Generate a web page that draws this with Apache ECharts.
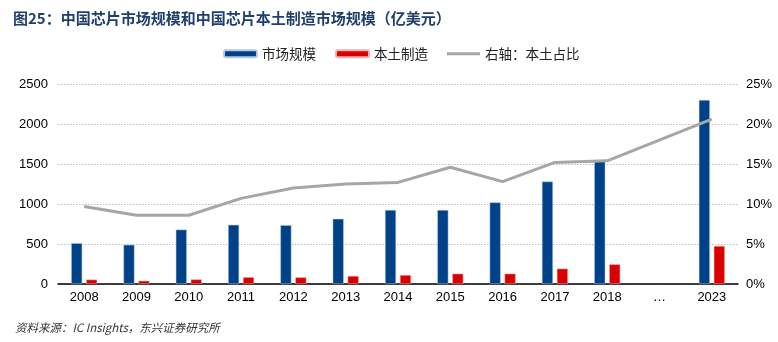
<!DOCTYPE html>
<html>
<head>
<meta charset="utf-8">
<script src="https://cdn.jsdelivr.net/npm/echarts@6/dist/echarts.min.js"></script>
<style>
html,body{margin:0;padding:0;background:#fff;}
#c{width:778px;height:342px;}
</style>
</head>
<body>
<div id="c"></div>
<script>
const categories = ['2008','2009','2010','2011','2012','2013','2014','2015','2016','2017','2018','…','2023'];
const marketSize = [510, 490, 680, 740, 735, 815, 925, 925, 1020, 1280, 1550, null, 2300];
const localMade = [55, 40, 57, 85, 83, 100, 112, 129, 129, 192, 246, null, 475];
const localShare = [9.7, 8.6, 8.6, 10.7, 12.0, 12.5, 12.7, 14.6, 12.8, 15.2, 15.4, null, 20.6];
const leftTicks = [0, 500, 1000, 1500, 2000, 2500];
const rightTicks = [0, 5, 10, 15, 20, 25];

const chart = echarts.init(document.getElementById('c'));
const axisFont = {fontFamily: 'Liberation Sans, Arial, sans-serif', fontSize: 13, color: '#000'};
chart.setOption({
  animation: false,
  backgroundColor: '#fff',
  title: [{
    text: '图25：中国芯片市场规模和中国芯片本土制造市场规模（亿美元）',
    left: 8, top: 6,
    textStyle: {fontFamily: 'Noto Sans CJK SC', fontSize: 15, fontWeight: 'bold', color: '#1F3F6E'}
  }, {
    text: '资料来源：IC Insights，东兴证券研究所',
    left: 10, top: 317,
    textStyle: {fontFamily: 'Noto Sans CJK SC', fontSize: 11.5, fontStyle: 'italic', fontWeight: 'normal', color: '#333'}
  }],
  legend: {
    top: 42, left: 218,
    itemWidth: 33, itemHeight: 7, itemGap: 19,
    textStyle: {fontFamily: 'Noto Sans CJK SC', fontSize: 13.5, color: '#222'},
    data: [
      {name: '市场规模'},
      {name: '本土制造'},
      {name: '右轴：本土占比', icon: 'path://M0,0 L33,0 L33,3 L0,3 Z', itemStyle: {color: '#A6A6A6'}}
    ]
  },
  grid: {left: 58, right: 40, top: 84, bottom: 58},
  xAxis: {
    type: 'category',
    data: categories,
    axisTick: {show: false},
    axisLine: {lineStyle: {color: '#000', width: 1.5}},
    axisLabel: Object.assign({margin: 7, interval: 0}, axisFont)
  },
  yAxis: [{
    type: 'value', min: leftTicks[0], max: leftTicks[leftTicks.length - 1], interval: 500,
    axisLine: {show: false}, axisTick: {show: false},
    axisLabel: Object.assign({margin: 10, formatter: v => String(v)}, axisFont),
    splitLine: {lineStyle: {color: '#BFBFBF', type: [1.5, 1.5], width: 1}}
  }, {
    type: 'value', min: rightTicks[0], max: rightTicks[rightTicks.length - 1], interval: 5,
    axisLine: {show: false}, axisTick: {show: false},
    axisLabel: Object.assign({margin: 8, formatter: v => v + '%'}, axisFont),
    splitLine: {show: false}
  }],
  series: [{
    name: '市场规模', type: 'bar', data: marketSize,
    barWidth: 11, barGap: '36%',
    itemStyle: {color: '#00428A', borderColor: '#B8C8DD', borderWidth: 0.5}
  }, {
    name: '本土制造', type: 'bar', data: localMade,
    barWidth: 11,
    itemStyle: {color: '#D90000', borderColor: '#F0B0B0', borderWidth: 0.5}
  }, {
    name: '右轴：本土占比', type: 'line', yAxisIndex: 1, data: localShare,
    connectNulls: true, symbol: 'none',
    lineStyle: {color: '#A6A6A6', width: 3},
    itemStyle: {color: '#A6A6A6'}
  }]
});
</script>
</body>
</html>
